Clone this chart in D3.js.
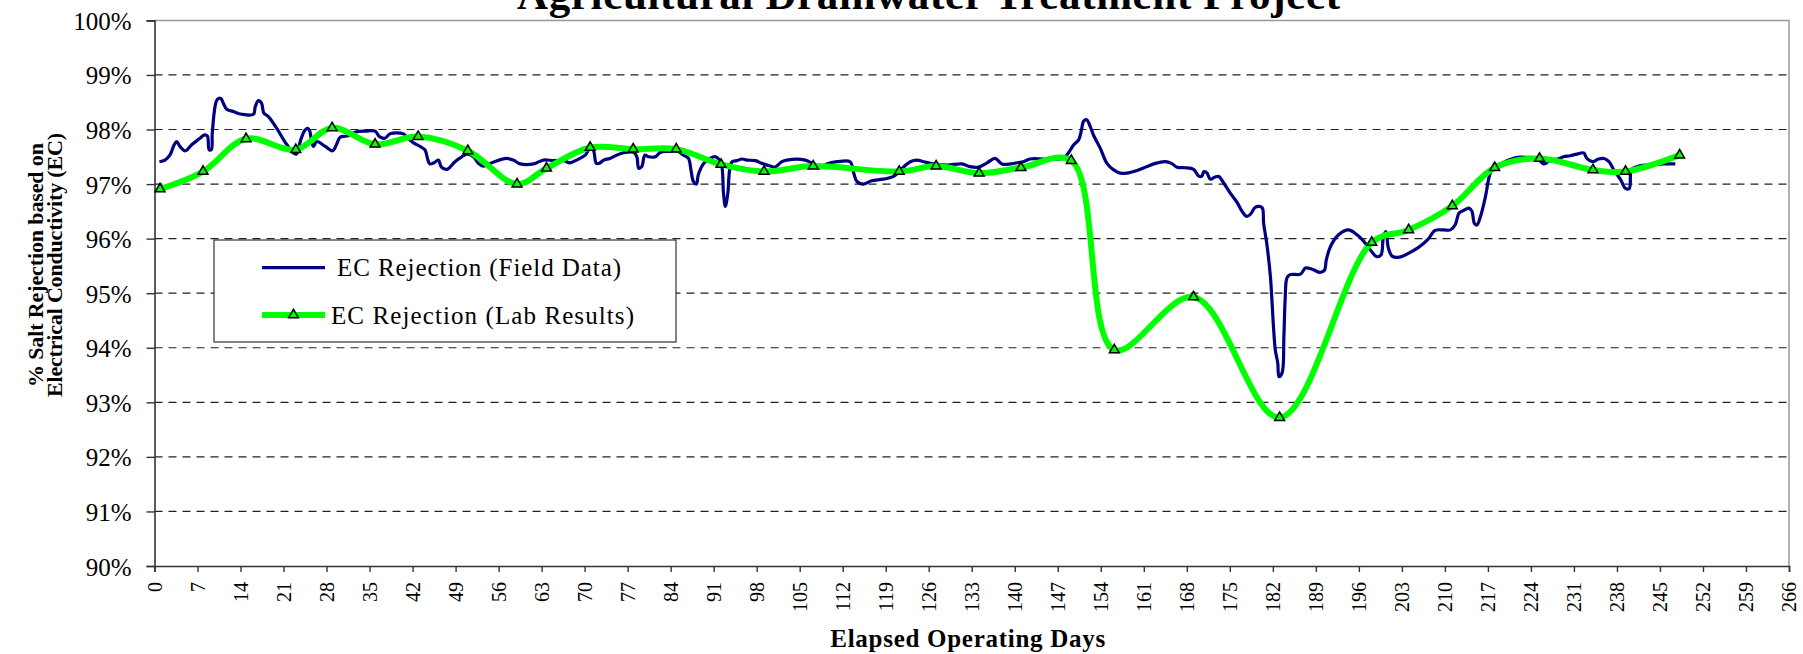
<!DOCTYPE html>
<html>
<head>
<meta charset="utf-8">
<script src="https://cdn.jsdelivr.net/npm/d3@7"></script>
<style>
    body { margin: 0; background: #fff; }
    text { font-family: "Liberation Serif", "Times New Roman", serif; fill: #000; }
</style>
</head>
<body>
<svg id="chart" width="1803" height="654"></svg>
<script>

// field data (blue)
var fieldDays = [
    0.8, 1.7, 2.5, 3.2, 3.6, 4.15, 5.0, 6.05, 7.4, 8.06, 8.6, 8.9, 9.25, 9.4, 9.85, 10.2, 10.8, 11.2, 11.75, 12.8,
    14.2, 16.1, 16.4, 16.9, 17.4, 17.8, 18.5, 19.9, 21.2, 22.6, 23.1, 23.4, 23.8, 24.5, 25.0, 25.3, 25.6, 25.9, 26.4, 27.8,
    29.0, 29.6, 30.2, 31.3, 32.9, 34.3, 35.9, 36.6, 37.5, 38.3, 39.4, 40.5, 41.3, 42.1, 43.2, 44.0, 44.5, 44.8, 45.5, 46.2,
    46.7, 47.6, 48.9, 50.0, 50.8, 51.9, 52.7, 53.5, 54.9, 57.3, 58.4, 59.5, 61.7, 63.3, 64.9, 66.6, 67.6, 68.7, 70.1, 70.9,
    71.4, 71.9, 72.4, 73.1, 74.1, 75.2, 76.6, 78.0, 78.5, 78.8, 79.3, 79.8, 80.4, 81.5, 82.3, 83.9, 85.0, 86.1, 86.9, 87.3,
    87.7, 88.2, 88.5, 89.4, 90.4, 91.3, 92.2, 92.6, 92.9, 93.3, 93.6, 94.0, 94.8, 95.6, 96.4, 97.8, 98.8, 100.2, 101.0, 102.1,
    102.9, 105.9, 107.0, 108.1, 109.4, 111.1, 113.2, 113.8, 114.3, 115.4, 116.7, 118.6, 120.3, 121.4, 123.0, 124.1, 125.2, 126.8, 129.0, 131.4,
    132.7, 134.1, 135.5, 136.8, 137.9, 139.3, 140.3, 141.4, 142.5, 144.7, 147.4, 148.2, 148.9, 149.6, 150.4, 150.8, 151.2, 151.7, 152.3, 152.8,
    153.9, 155.0, 156.1, 157.2, 158.2, 159.9, 161.5, 162.9, 164.5, 165.5, 166.4, 167.7, 169.1, 169.9, 170.4, 170.8, 171.3, 171.8, 172.6, 173.2,
    174.0, 175.1, 176.2, 177.0, 177.7, 178.3, 179.1, 179.8, 180.3, 180.5, 181.0, 181.6, 182.1, 182.4, 182.8, 183.0, 183.5, 183.8, 184.0, 184.3,
    184.8, 186.5, 187.3, 188.4, 189.7, 190.4, 190.7, 191.4, 192.7, 194.3, 195.7, 196.8, 198.1, 198.9, 199.6, 200.0, 200.4, 200.8, 201.4, 202.6,
    204.2, 205.6, 207.2, 208.4, 209.8, 210.9, 211.7, 212.3, 213.1, 213.9, 214.4, 214.8, 215.2, 215.8, 216.6, 217.3, 218.0, 219.0, 220.4, 221.8,
    223.4, 225.0, 226.1, 227.2, 228.3, 229.3, 230.4, 231.5, 232.6, 233.1, 234.0, 235.0, 235.9, 236.7, 237.5, 238.6, 239.4, 240.0, 240.2, 240.3,
    241.6, 243.5, 245.6, 247.5
];
var fieldRejection = [
    97.41, 97.44, 97.53, 97.72, 97.78, 97.69, 97.61, 97.72, 97.84, 97.90, 97.88, 97.63, 97.63, 97.93, 98.42, 98.55, 98.57, 98.48, 98.37, 98.33,
    98.28, 98.28, 98.42, 98.53, 98.49, 98.30, 98.24, 98.02, 97.78, 97.57, 97.55, 97.63, 97.81, 97.99, 98.02, 97.96, 97.75, 97.69, 97.78, 97.69,
    97.61, 97.72, 97.86, 97.88, 97.96, 97.97, 97.97, 97.87, 97.84, 97.92, 97.94, 97.92, 97.84, 97.76, 97.69, 97.63, 97.44, 97.37, 97.39, 97.44,
    97.31, 97.27, 97.41, 97.50, 97.55, 97.50, 97.38, 97.33, 97.39, 97.47, 97.44, 97.37, 97.37, 97.44, 97.43, 97.43, 97.39, 97.44, 97.53, 97.66,
    97.63, 97.38, 97.38, 97.44, 97.47, 97.53, 97.58, 97.58, 97.50, 97.29, 97.32, 97.53, 97.50, 97.50, 97.58, 97.60, 97.61, 97.53, 97.47, 97.26,
    97.05, 97.00, 97.17, 97.38, 97.47, 97.50, 97.38, 96.83, 96.59, 96.83, 97.26, 97.41, 97.43, 97.46, 97.44, 97.43, 97.38, 97.33, 97.31, 97.41,
    97.44, 97.44, 97.38, 97.29, 97.37, 97.41, 97.41, 97.20, 97.05, 97.00, 97.06, 97.09, 97.14, 97.26, 97.41, 97.44, 97.41, 97.37, 97.35, 97.37,
    97.32, 97.31, 97.39, 97.47, 97.37, 97.37, 97.39, 97.41, 97.46, 97.46, 97.46, 97.50, 97.60, 97.72, 97.81, 97.96, 98.15, 98.18, 98.05, 97.90,
    97.66, 97.38, 97.26, 97.20, 97.20, 97.25, 97.32, 97.38, 97.41, 97.38, 97.31, 97.30, 97.27, 97.15, 97.14, 97.23, 97.20, 97.09, 97.13, 97.14,
    97.02, 96.83, 96.66, 96.50, 96.41, 96.44, 96.57, 96.59, 96.56, 96.28, 95.92, 95.31, 94.39, 93.96, 93.72, 93.47, 93.54, 94.21, 94.88, 95.28,
    95.34, 95.35, 95.46, 95.44, 95.38, 95.42, 95.61, 95.86, 96.07, 96.16, 96.07, 95.95, 95.76, 95.67, 95.70, 96.04, 96.13, 95.83, 95.68, 95.66,
    95.74, 95.83, 95.98, 96.15, 96.16, 96.16, 96.26, 96.47, 96.52, 96.56, 96.50, 96.28, 96.25, 96.41, 96.77, 97.17, 97.33, 97.37, 97.44, 97.49,
    97.49, 97.47, 97.37, 97.44, 97.46, 97.50, 97.52, 97.55, 97.57, 97.47, 97.41, 97.46, 97.47, 97.41, 97.26, 97.08, 96.92, 96.92, 97.17, 97.26,
    97.33, 97.35, 97.37, 97.37
];

// lab results (green)
var labDays = [
    0.9, 7.9, 14.9, 23.0, 28.9, 35.9, 42.9, 51.0, 59.0, 63.8, 70.9, 77.9, 84.9, 92.2, 99.2, 107.2,
    121.2, 127.2, 134.2, 141.0, 149.2, 156.2, 169.1, 183.1, 198.1, 204.1, 211.2, 218.1, 225.4, 234.1, 239.4, 248.2
];
var labRejection = [
    96.91, 97.23, 97.83, 97.63, 98.03, 97.73, 97.87, 97.61, 97.00, 97.29, 97.67, 97.64, 97.64, 97.36, 97.23, 97.33,
    97.23, 97.33, 97.20, 97.30, 97.43, 93.96, 94.93, 92.72, 95.93, 96.16, 96.60, 97.30, 97.47, 97.26, 97.23, 97.53
];

var xTicks = [0, 7, 14, 21, 28, 35, 42, 49, 56, 63, 70, 77, 84, 91, 98, 105, 112, 119, 126, 133,
    140, 147, 154, 161, 168, 175, 182, 189, 196, 203, 210, 217, 224, 231, 238, 245, 252, 259, 266];
var yTicks = [90, 91, 92, 93, 94, 95, 96, 97, 98, 99, 100];

var seriesNames = ['EC Rejection (Field Data)', 'EC Rejection (Lab Results)'];


(function () {

    var svg = d3.select('#chart');
    var left = 154.5, right = 1789, top = 20.4, bottom = 566;

    var x = d3.scaleLinear().domain([0, 266]).range([left, right]);
    var y = d3.scaleLinear().domain([90, 100]).range([bottom, top]);

    var field = fieldDays.map(function (d, i) { return [d, fieldRejection[i]]; });
    var lab = labDays.map(function (d, i) { return [d, labRejection[i]]; });

    // grid
    svg.append('g')
        .selectAll('line')
        .data(yTicks.filter(function (v) { return v > 90 && v < 100; }))
        .enter()
        .append('line')
        .attr('x1', left).attr('x2', right)
        .attr('y1', function (v) { return y(v); })
        .attr('y2', function (v) { return y(v); })
        .attr('stroke', '#222')
        .attr('stroke-width', 1.2)
        .attr('stroke-dasharray', '8,6');

    // plot border top / right
    svg.append('path')
        .attr('d', 'M' + left + ',' + top + 'H' + right + 'V' + bottom)
        .attr('fill', 'none')
        .attr('stroke', '#999')
        .attr('stroke-width', 1.5);

    // axes
    var yAxis = svg.append('g')
        .attr('transform', 'translate(' + left + ',0)')
        .call(d3.axisLeft(y).tickValues(yTicks).tickSizeOuter(0).tickSize(8).tickPadding(15)
            .tickFormat(function (v) { return v + '%'; }));
    yAxis.selectAll('text')
        .style('font-size', '25px')
        .attr('dy', '0.36em');

    var xAxis = svg.append('g')
        .attr('transform', 'translate(0,' + bottom + ')')
        .call(d3.axisBottom(x).tickValues(xTicks).tickSizeOuter(0).tickSize(6));
    xAxis.selectAll('text')
        .style('font-size', '20px')
        .attr('transform', 'rotate(-90)')
        .attr('text-anchor', 'end')
        .attr('x', -16)
        .attr('y', 0)
        .attr('dy', '0.34em');

    [xAxis, yAxis].forEach(function (g) {
        g.select('.domain').attr('stroke', '#333').attr('stroke-width', 1.6);
        g.selectAll('.tick line').attr('stroke', '#333').attr('stroke-width', 1.4);
    });

    // series
    var line = d3.line()
        .x(function (d) { return x(d[0]); })
        .y(function (d) { return y(d[1]); });

    svg.append('path')
        .datum(field)
        .attr('d', line.curve(d3.curveCatmullRom.alpha(0.5)))
        .attr('fill', 'none')
        .attr('stroke', '#000080')
        .attr('stroke-width', 3.2)
        .attr('stroke-linejoin', 'round');

    svg.append('path')
        .datum(lab)
        .attr('d', line.curve(d3.curveCatmullRom.alpha(0.5)))
        .attr('fill', 'none')
        .attr('stroke', '#00ff00')
        .attr('stroke-width', 6)
        .attr('stroke-linejoin', 'round');

    var tri = d3.symbol().type(d3.symbolTriangle).size(42);

    svg.append('g')
        .selectAll('path')
        .data(lab)
        .enter()
        .append('path')
        .attr('d', tri)
        .attr('transform', function (d) { return 'translate(' + x(d[0]) + ',' + y(d[1]) + ')'; })
        .attr('fill', '#00ff00')
        .attr('stroke', '#000')
        .attr('stroke-width', 1.5);

    // titles
    svg.append('text')
        .attr('x', 517).attr('y', 9)
        .attr('textLength', 823)
        .style('font-size', '43px')
        .style('font-weight', 'bold')
        .text('Agricultural Drainwater Treatment Project');

    svg.append('text')
        .attr('x', (left + right) / 2 - 4).attr('y', 647)
        .attr('text-anchor', 'middle')
        .attr('textLength', 275)
        .style('font-size', '25px')
        .style('font-weight', 'bold')
        .text('Elapsed Operating Days');

    svg.append('text')
        .attr('transform', 'translate(43,265) rotate(-90)')
        .attr('text-anchor', 'middle')
        .attr('textLength', 244)
        .style('font-size', '22px')
        .style('font-weight', 'bold')
        .text('% Salt Rejection based on');

    svg.append('text')
        .attr('transform', 'translate(62,265) rotate(-90)')
        .attr('text-anchor', 'middle')
        .attr('textLength', 264)
        .style('font-size', '22px')
        .style('font-weight', 'bold')
        .text('Electrical Conductivity (EC)');

    // legend
    var lg = svg.append('g');
    lg.append('rect')
        .attr('x', 214).attr('y', 240)
        .attr('width', 462).attr('height', 102)
        .attr('fill', '#fff')
        .attr('stroke', '#333')
        .attr('stroke-width', 1.2);

    lg.append('line')
        .attr('x1', 262).attr('x2', 325).attr('y1', 267.7).attr('y2', 267.7)
        .attr('stroke', '#000080').attr('stroke-width', 3.2);
    lg.append('text')
        .attr('x', 337).attr('y', 276)
        .attr('textLength', 284)
        .style('font-size', '25px')
        .text(seriesNames[0]);

    lg.append('line')
        .attr('x1', 262).attr('x2', 325).attr('y1', 315).attr('y2', 315)
        .attr('stroke', '#00ff00').attr('stroke-width', 6);
    lg.append('path')
        .attr('d', tri)
        .attr('transform', 'translate(293.5,315)')
        .attr('fill', '#00ff00')
        .attr('stroke', '#000')
        .attr('stroke-width', 1.5);
    lg.append('text')
        .attr('x', 331).attr('y', 324)
        .attr('textLength', 303)
        .style('font-size', '25px')
        .text(seriesNames[1]);

})();
</script>
</body>
</html>
